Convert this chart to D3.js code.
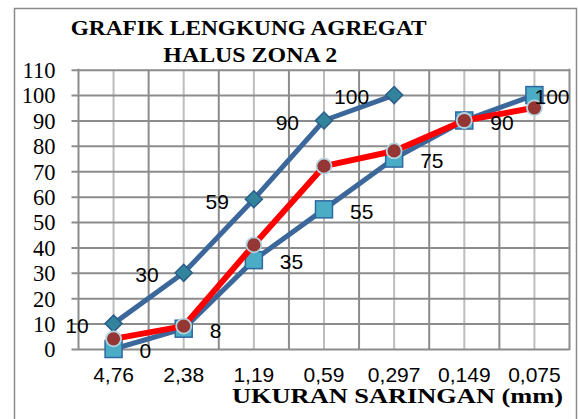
<!DOCTYPE html>
<html lang="en">
<head>
    <meta charset="UTF-8">
    <script src="https://d3js.org/d3.v7.min.js"></script>
    <title>Grafik Lengkung Agregat</title>
    <style>
        body { margin: 0; background: #fff; }
        svg { display: block; }
    </style>
</head>
<body>
    <div id="container"></div>
<script>
    // data
    var categories = ["4,76", "2,38", "1,19", "0,59", "0,297", "0,149", "0,075"];
    var batasAtas = [10, 30, 59, 90, 100, null, null];     // diamond series
    var batasBawah = [0, 8, 35, 55, 75, 90, 100];          // square series
    var hasil = [4, 9, 41, 72, 78, 90, 95];                // red series
    var yTicks = [0, 10, 20, 30, 40, 50, 60, 70, 80, 90, 100, 110];
    var titleLines = ["GRAFIK LENGKUNG AGREGAT", "HALUS ZONA 2"];
    var xTitle = "UKURAN SARINGAN (mm)";

    var width = 578, height = 419;
    // note: "top" is reserved on window, so plot edges get their own names
    var pLeft = 78.5, pRight = 569.5, pTop = 69.7, pBottom = 349;

    var svg = d3.select("#container").append("svg").attr("width", width).attr("height", height);

    // outer border
    svg.append("rect").attr("x", 14.5).attr("y", 8.5).attr("width", 562).attr("height", 430)
        .attr("fill", "#fff").attr("stroke", "#8a8a8a").attr("stroke-width", 1.5);

    var x = d3.scaleBand().domain(categories).range([pLeft, pRight]);
    var y = d3.scaleLinear().domain([0, 110]).range([pBottom, pTop]);
    var cx = function (i) { return x(categories[i]) + x.bandwidth() / 2; };

    // vertical gridlines: light at category centres, darker at band edges
    svg.append("g").selectAll("line").data(categories).join("line")
        .attr("x1", function (d) { return x(d) + x.bandwidth() / 2; })
        .attr("x2", function (d) { return x(d) + x.bandwidth() / 2; })
        .attr("y1", pTop).attr("y2", pBottom)
        .attr("stroke", "#bdbdbd").attr("stroke-width", 2);
    svg.append("g").selectAll("line").data(categories.slice(1)).join("line")
        .attr("x1", function (d) { return x(d); }).attr("x2", function (d) { return x(d); })
        .attr("y1", pTop).attr("y2", pBottom)
        .attr("stroke", "#8c8c8c").attr("stroke-width", 2);

    // y axis with horizontal grid
    var yAxis = d3.axisLeft(y).tickValues(yTicks).tickSizeInner(-(pRight - pLeft)).tickSizeOuter(0);
    var gy = svg.append("g").attr("transform", "translate(" + pLeft + ",0)").call(yAxis);
    gy.select(".domain").remove();
    gy.selectAll(".tick line").attr("x1", -7).attr("stroke", "#8c8c8c").attr("stroke-width", 2);
    gy.selectAll(".tick text")
        .attr("font-family", "'Liberation Serif', 'Times New Roman', serif")
        .attr("font-size", 22.5).attr("fill", "#000").attr("x", -23).attr("dy", "0.35em");

    // plot frame lines
    svg.append("line").attr("x1", pLeft).attr("x2", pLeft).attr("y1", pTop - 1).attr("y2", pBottom + 1)
        .attr("stroke", "#8c8c8c").attr("stroke-width", 2);
    svg.append("line").attr("x1", pRight).attr("x2", pRight).attr("y1", pTop - 1).attr("y2", pBottom + 1)
        .attr("stroke", "#8c8c8c").attr("stroke-width", 2);

    // x axis labels
    var xAxis = d3.axisBottom(x).tickSize(0).tickPadding(20);
    var gx = svg.append("g").attr("transform", "translate(0," + pBottom + ")").call(xAxis);
    gx.select(".domain").remove();
    gx.selectAll(".tick text")
        .attr("font-family", "'Liberation Sans', Arial, sans-serif")
        .attr("font-size", 21).attr("fill", "#000").attr("dy", "0.62em");

    // titles
    var serif = "'Liberation Serif', 'Times New Roman', serif";
    svg.append("text").attr("x", 70.7).attr("y", 35).text(titleLines[0])
        .attr("font-family", serif).attr("font-weight", "bold").attr("font-size", 22)
        .attr("textLength", 356).attr("lengthAdjust", "spacingAndGlyphs");
    svg.append("text").attr("x", 163.3).attr("y", 61.5).text(titleLines[1])
        .attr("font-family", serif).attr("font-weight", "bold").attr("font-size", 22)
        .attr("textLength", 174).attr("lengthAdjust", "spacingAndGlyphs");
    svg.append("text").attr("x", 232).attr("y", 403).text(xTitle)
        .attr("font-family", serif).attr("font-weight", "bold").attr("font-size", 22)
        .attr("textLength", 331).attr("lengthAdjust", "spacingAndGlyphs");

    function seriesData(vals) {
        return vals.map(function (v, i) { return { i: i, v: v }; }).filter(function (d) { return d.v != null; });
    }
    var line = d3.line().x(function (d) { return cx(d.i); }).y(function (d) { return y(d.v); });

    var blue = "#3b679b";
    var sans = "'Liberation Sans', Arial, sans-serif";

    // upper limit (diamonds)
    var dUp = seriesData(batasAtas);
    svg.append("path").datum(dUp).attr("d", line).attr("fill", "none")
        .attr("stroke", blue).attr("stroke-width", 5).attr("stroke-linejoin", "round");
    svg.append("g").selectAll("path").data(dUp).join("path")
        .attr("d", "M0,-8.5L8.5,0L0,8.5L-8.5,0Z")
        .attr("transform", function (d) { return "translate(" + cx(d.i) + "," + y(d.v) + ")"; })
        .attr("fill", "#31849b").attr("stroke", "#2c5d8c").attr("stroke-width", 1.5);

    // lower limit (squares)
    var dLow = seriesData(batasBawah);
    svg.append("path").datum(dLow).attr("d", line).attr("fill", "none")
        .attr("stroke", blue).attr("stroke-width", 5).attr("stroke-linejoin", "round");
    svg.append("g").selectAll("rect").data(dLow).join("rect")
        .attr("x", function (d) { return cx(d.i) - 8.5; }).attr("y", function (d) { return y(d.v) - 8.5; })
        .attr("width", 17).attr("height", 17)
        .attr("fill", "#4bacc6").attr("stroke", "#2f68a0").attr("stroke-width", 1.5);

    // red series (circles)
    var dRed = seriesData(hasil);
    svg.append("path").datum(dRed).attr("d", line).attr("fill", "none")
        .attr("stroke", "#ff0000").attr("stroke-width", 6).attr("stroke-linejoin", "round");
    svg.append("g").selectAll("circle").data(dRed).join("circle")
        .attr("cx", function (d) { return cx(d.i); }).attr("cy", function (d) { return y(d.v); })
        .attr("r", 7.5).attr("fill", "#943634").attr("stroke", "#b4d3e0").attr("stroke-width", 1.8);

    // data labels: upper series to the left, lower series to the right
    svg.append("g").selectAll("text").data(dUp).join("text")
        .attr("x", function (d) { return cx(d.i) - 25; }).attr("y", function (d) { return y(d.v) + 2; })
        .attr("dy", "0.35em").attr("text-anchor", "end")
        .attr("font-family", sans).attr("font-size", 21).attr("fill", "#000")
        .text(function (d) { return d.v; });
    svg.append("g").selectAll("text").data(dLow).join("text")
        .attr("y", function (d) { return y(d.v) + 2; })
        .attr("dy", "0.35em")
        .attr("font-family", sans).attr("font-size", 21).attr("fill", "#000")
        .text(function (d) { return d.v; })
        .attr("x", function (d) {
            var w = this.getComputedTextLength();
            return Math.min(cx(d.i) + 26, pRight - w);
        });
</script>
</body>
</html>
